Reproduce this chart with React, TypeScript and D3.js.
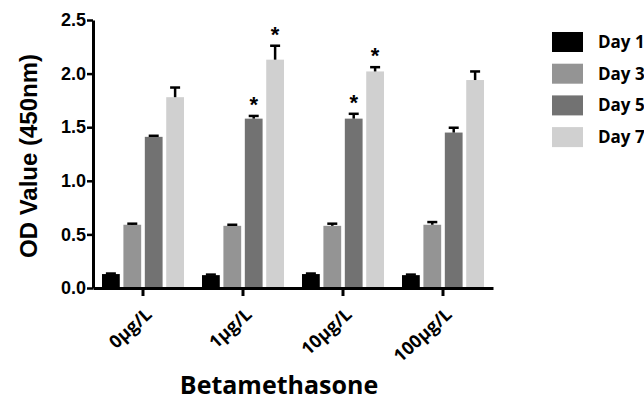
import React, { useRef, useEffect } from "react";
import * as d3 from "d3";

const categories = ["0μg/L", "1μg/L", "10μg/L", "100μg/L"];
const series = ["Day 1", "Day 3", "Day 5", "Day 7"];
const colors = ["#000000", "#949494", "#727272", "#d0d0d0"];

// means per category, one array per day
const day1 = [0.13, 0.12, 0.13, 0.12];
const day3 = [0.59, 0.58, 0.58, 0.59];
const day5 = [1.41, 1.58, 1.58, 1.45];
const day7 = [1.78, 2.13, 2.02, 1.94];

// error bars (upper only)
const err1 = [0.005, 0.005, 0.005, 0.005];
const err3 = [0.01, 0.01, 0.02, 0.025];
const err5 = [0.01, 0.025, 0.045, 0.045];
const err7 = [0.09, 0.13, 0.04, 0.08];

// significance markers [category, day]
const stars = [
  [1, 2],
  [1, 3],
  [2, 2],
  [2, 3],
];

const yTicks = [0, 0.5, 1.0, 1.5, 2.0, 2.5];

const App = () => {
  const ref = useRef(null);

  useEffect(() => {
    const svg = d3.select(ref.current);
    svg.selectAll("*").remove();

    const values = [day1, day3, day5, day7];
    const errors = [err1, err3, err5, err7];

    const x0 = d3.scaleBand().domain(categories).range([93, 493]).paddingInner(0.18).paddingOuter(0.09);
    const x1 = d3.scaleBand().domain(series).range([0, x0.bandwidth()]).paddingInner(0.17);
    const y = d3.scaleLinear().domain([0, 2.5]).range([288, 20]);

    // bars
    series.forEach((s, si) => {
      svg
        .append("g")
        .selectAll("rect")
        .data(categories)
        .enter()
        .append("rect")
        .attr("x", (c) => x0(c) + x1(s))
        .attr("y", (c, i) => y(values[si][i]))
        .attr("width", x1.bandwidth())
        .attr("height", (c, i) => 288 - y(values[si][i]))
        .attr("fill", colors[si]);

      // error bars
      const eg = svg.append("g").attr("stroke", "#000").attr("stroke-width", 2.5);
      categories.forEach((c, i) => {
        const cx = x0(c) + x1(s) + x1.bandwidth() / 2;
        const top = y(values[si][i] + errors[si][i]);
        eg.append("line").attr("x1", cx).attr("x2", cx).attr("y1", y(values[si][i])).attr("y2", top);
        eg.append("line").attr("x1", cx - 5).attr("x2", cx + 5).attr("y1", top).attr("y2", top);
      });
    });

    // stars
    svg
      .append("g")
      .selectAll("text")
      .data(stars)
      .enter()
      .append("text")
      .attr("x", (d) => x0(categories[d[0]]) + x1(series[d[1]]) + x1.bandwidth() / 2)
      .attr("y", (d) => y(values[d[1]][d[0]] + errors[d[1]][d[0]]) - 4)
      .attr("text-anchor", "middle")
      .attr("font-family", "Liberation Sans, Arial, sans-serif")
      .attr("font-weight", "bold")
      .attr("font-size", 22)
      .text("*");

    // y axis
    const yAxis = svg
      .append("g")
      .attr("transform", "translate(93,0)")
      .call(d3.axisLeft(y).tickValues(yTicks).tickFormat(d3.format(".1f")).tickSize(6).tickSizeOuter(0));
    yAxis.select(".domain").attr("stroke-width", 3);
    yAxis.selectAll(".tick line").attr("stroke-width", 2.5);
    yAxis
      .selectAll(".tick text")
      .attr("font-family", "Liberation Sans, Arial, sans-serif")
      .attr("font-weight", "bold")
      .attr("font-size", 18)
      .attr("fill", "#000")
      .attr("x", -7);

    // x axis
    const xAxis = svg
      .append("g")
      .attr("transform", "translate(0,288)")
      .call(d3.axisBottom(x0).tickSize(8).tickSizeOuter(0));
    xAxis.select(".domain").attr("stroke-width", 3);
    xAxis.selectAll(".tick line").attr("stroke-width", 3);
    xAxis
      .selectAll(".tick text")
      .attr("font-family", "Open Sans, sans-serif")
      .attr("font-weight", "bold")
      .attr("font-size", 18)
      .attr("fill", "#000")
      .attr("text-anchor", "end")
      .attr("dy", 0)
      .attr("transform", "translate(10,28) rotate(-42)")
      .attr("x", 0)
      .attr("y", 0);

    // axis titles
    svg
      .append("text")
      .attr("transform", "translate(37,156) rotate(-90)")
      .attr("text-anchor", "middle")
      .attr("font-family", "Liberation Sans, Arial, sans-serif")
      .attr("font-weight", "bold")
      .attr("font-size", 24)
      .text("OD Value (450nm)");

    svg
      .append("text")
      .attr("x", 279)
      .attr("y", 394)
      .attr("text-anchor", "middle")
      .attr("font-family", "Open Sans, sans-serif")
      .attr("font-weight", "bold")
      .attr("font-size", 25)
      .text("Betamethasone");

    // legend
    const legend = svg.append("g");
    series.forEach((s, i) => {
      const ly = 32 + i * 31.7;
      legend.append("rect").attr("x", 552).attr("y", ly).attr("width", 31).attr("height", 20).attr("fill", colors[i]);
      legend
        .append("text")
        .attr("x", 598)
        .attr("y", ly + 16)
        .attr("font-family", "Open Sans, sans-serif")
        .attr("font-weight", "bold")
        .attr("font-size", 17)
        .text(s);
    });
  }, []);

  return (
    <svg
      ref={ref}
      width={644}
      height={401}
      style={{ position: "absolute", left: 0, top: 0, background: "#fff" }}
    />
  );
};

export default App;
